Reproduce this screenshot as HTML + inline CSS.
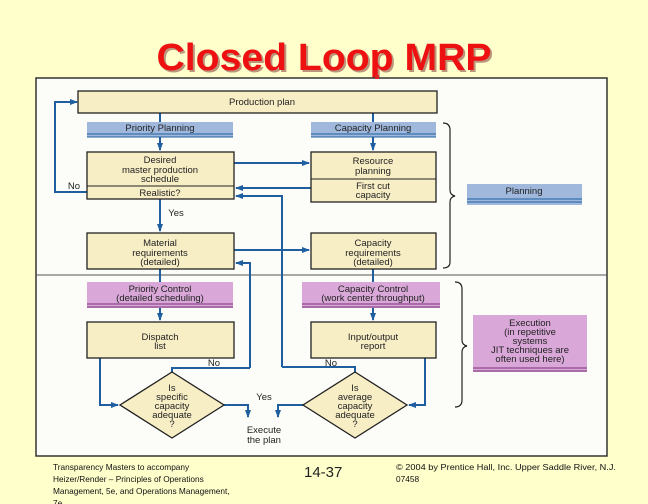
<!DOCTYPE html>
<html><head><style>
html,body{margin:0;padding:0;background:#ffffcc;}
svg{display:block;font-family:"Liberation Sans",Arial,sans-serif;}
</style></head><body>
<svg width="648" height="504" viewBox="0 0 648 504" xmlns="http://www.w3.org/2000/svg">
<defs>
<marker id="a" markerWidth="8" markerHeight="8" refX="7" refY="4" orient="auto" markerUnits="userSpaceOnUse">
<path d="M0,1 L8,4 L0,7 Z" fill="#1f5f9f"/></marker>
</defs>
<rect width="648" height="504" fill="#ffffcc"/>
<text x="324" y="70" text-anchor="middle" font-size="38" font-weight="bold" fill="#7a3030" opacity="0.5" textLength="335" lengthAdjust="spacingAndGlyphs" transform="translate(2,2)">Closed Loop MRP</text>
<text x="324" y="70" text-anchor="middle" font-size="38" font-weight="bold" fill="#ee1111" textLength="335" lengthAdjust="spacingAndGlyphs">Closed Loop MRP</text>
<rect x="36" y="78" width="571" height="378" fill="#fcfcf8" stroke="#333" stroke-width="1.5"/>
<line x1="36" y1="275" x2="607" y2="275" stroke="#555" stroke-width="1"/>
<rect x="375" y="75" width="4" height="4" fill="#dd2222"/>

<g fill="none" stroke="#1f5f9f" stroke-width="2">
<polyline points="87,192 55,192 55,102 77,102" marker-end="url(#a)"/>
<polyline points="160,113 160,150" marker-end="url(#a)"/>
<polyline points="373,113 373,150" marker-end="url(#a)"/>
<polyline points="234,163 309,163" marker-end="url(#a)"/>
<polyline points="311,188 236,188" marker-end="url(#a)"/>
<polyline points="282,367 282,196 236,196" marker-end="url(#a)"/>
<polyline points="160,199 160,231" marker-end="url(#a)"/>
<polyline points="234,250 309,250" marker-end="url(#a)"/>
<polyline points="250,368 250,263 236,263" marker-end="url(#a)"/>
<polyline points="160,269 160,320" marker-end="url(#a)"/>
<polyline points="373,269 373,320" marker-end="url(#a)"/>
<polyline points="172,372 172,368 250,368"/>
<polyline points="355,372 355,367 282,367"/>
<polyline points="100,358 100,405 118,405" marker-end="url(#a)"/>
<polyline points="224,405 248,405 248,417" marker-end="url(#a)"/>
<polyline points="303,405 278,405 278,417" marker-end="url(#a)"/>
<polyline points="425,358 425,405 409,405" marker-end="url(#a)"/>
</g>

<g fill="#f8eec6" stroke="#222" stroke-width="1.3">
<rect x="78" y="91" width="359" height="22"/>
<rect x="87" y="152" width="147" height="47"/>
<rect x="311" y="152" width="125" height="50"/>
<rect x="87" y="233" width="147" height="36"/>
<rect x="311" y="233" width="125" height="36"/>
<rect x="87" y="322" width="147" height="36"/>
<rect x="311" y="322" width="125" height="36"/>
<path d="M172,372 L224,405 L172,438 L120,405 Z"/>
<path d="M355,372 L407,405 L355,438 L303,405 Z"/>
</g>
<line x1="87" y1="186" x2="234" y2="186" stroke="#222" stroke-width="1"/>
<line x1="311" y1="179" x2="436" y2="179" stroke="#222" stroke-width="1"/>

<g fill="#9fb8dc">
<rect x="87" y="122" width="146" height="15"/>
<rect x="311" y="122" width="125" height="15"/>
<rect x="467" y="184" width="115" height="21"/>
</g>
<g fill="#d9a8d8">
<rect x="87" y="282" width="146" height="26"/>
<rect x="302" y="282" width="138" height="26"/>
<rect x="473" y="315" width="114" height="57"/>
</g>
<g stroke="#1f5f9f" stroke-width="1">
<line x1="87" y1="134" x2="233" y2="134"/><line x1="87" y1="137" x2="233" y2="137"/>
<line x1="311" y1="134" x2="436" y2="134"/><line x1="311" y1="137" x2="436" y2="137"/>
<line x1="467" y1="199" x2="582" y2="199"/><line x1="467" y1="202" x2="582" y2="202"/>
</g>
<g stroke="#7a2f7a" stroke-width="1">
<line x1="87" y1="304" x2="233" y2="304"/><line x1="87" y1="307" x2="233" y2="307"/>
<line x1="302" y1="304" x2="440" y2="304"/><line x1="302" y1="307" x2="440" y2="307"/>
<line x1="473" y1="368" x2="587" y2="368"/><line x1="473" y1="371" x2="587" y2="371"/>
</g>
<g fill="none" stroke="#222" stroke-width="1.2">
<path d="M443,123 Q450,123 450,130 L450,190 Q450,195 455,196 Q450,197 450,202 L450,262 Q450,268 443,268"/>
<path d="M455,282 Q462,282 462,289 L462,340 Q462,345 467,346 Q462,347 462,352 L462,400 Q462,407 455,407"/>
</g>

<g font-size="9.5" fill="#222" text-anchor="middle">
<text x="262" y="105">Production plan</text>
<text x="160" y="131">Priority Planning</text>
<text x="373" y="131">Capacity Planning</text>
<text x="160" y="163">Desired</text>
<text x="160" y="173">master production</text>
<text x="160" y="182">schedule</text>
<text x="160" y="196">Realistic?</text>
<text x="373" y="164">Resource</text>
<text x="373" y="174">planning</text>
<text x="373" y="189">First cut</text>
<text x="373" y="198">capacity</text>
<text x="524" y="194">Planning</text>
<text x="160" y="246">Material</text>
<text x="160" y="256">requirements</text>
<text x="160" y="265">(detailed)</text>
<text x="373" y="246">Capacity</text>
<text x="373" y="256">requirements</text>
<text x="373" y="265">(detailed)</text>
<text x="160" y="292">Priority Control</text>
<text x="160" y="301">(detailed scheduling)</text>
<text x="373" y="292">Capacity Control</text>
<text x="373" y="301">(work center throughput)</text>
<text x="530" y="326">Execution</text>
<text x="530" y="335">(in repetitive</text>
<text x="530" y="344">systems</text>
<text x="530" y="353">JIT techniques are</text>
<text x="530" y="362">often used here)</text>
<text x="160" y="340">Dispatch</text>
<text x="160" y="349">list</text>
<text x="373" y="340">Input/output</text>
<text x="373" y="349">report</text>
<text x="172" y="391">Is</text>
<text x="172" y="400">specific</text>
<text x="172" y="409">capacity</text>
<text x="172" y="418">adequate</text>
<text x="172" y="427">?</text>
<text x="355" y="391">Is</text>
<text x="355" y="400">average</text>
<text x="355" y="409">capacity</text>
<text x="355" y="418">adequate</text>
<text x="355" y="427">?</text>
<text x="264" y="400">Yes</text>
<text x="264" y="433">Execute</text>
<text x="264" y="443">the plan</text>
<text x="176" y="216">Yes</text>
<text x="74" y="189">No</text>
<text x="214" y="366">No</text>
<text x="331" y="366">No</text>
</g>

<g font-size="8.3" fill="#111">
<text x="53" y="470">Transparency Masters to accompany</text>
<text x="53" y="482">Heizer/Render – Principles of Operations</text>
<text x="53" y="494">Management, 5e, and Operations Management,</text>
<text x="53" y="506">7e</text>
<text x="396" y="470" textLength="220" lengthAdjust="spacingAndGlyphs">© 2004 by Prentice Hall, Inc.  Upper Saddle River, N.J.</text>
<text x="396" y="482">07458</text>
</g>
<text x="304" y="477" font-size="15" fill="#222">14-37</text>
</svg>
</body></html>
